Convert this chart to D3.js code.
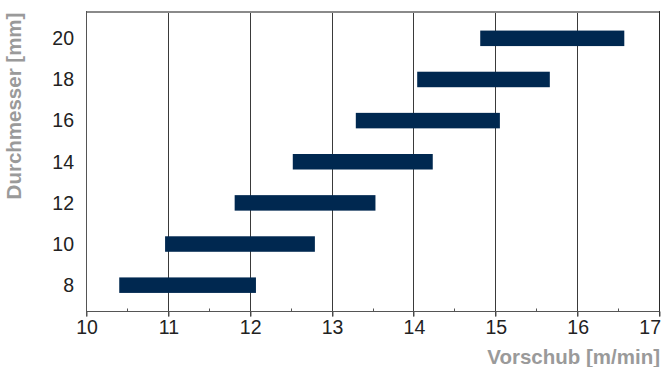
<!DOCTYPE html>
<html><head><meta charset="utf-8">
<script src="https://cdn.jsdelivr.net/npm/d3@7"></script>
<style>
html,body{margin:0;padding:0;background:#fff;}
text{font-family:"Liberation Sans",Arial,Helvetica,sans-serif;}
</style></head>
<body>
<svg id="chart" width="662" height="367"></svg>
<script>
const diameters = ["8","10","12","14","16","18","20"];
const feedMin = [10.40, 10.96, 11.81, 12.52, 13.29, 14.04, 14.81];
const feedMax = [12.07, 12.79, 13.53, 14.23, 15.05, 15.66, 16.57];
const xTicks = [10, 11, 12, 13, 14, 15, 16, 17];
const xMinorTicks = [10.5, 11.5, 12.5, 13.5, 14.5, 15.5, 16.5];
const xTitle = "Vorschub [m/min]";
const yTitle = "Durchmesser [mm]";

(function () {
const svg = d3.select("#chart");
const pl = 86.5, pr = 659.5, pt = 12, pb = 311.5;

const x = d3.scaleLinear().domain([10, 17]).range([pl, pr]);
const y = d3.scalePoint().domain(diameters.slice().reverse()).range([pt, pb]).padding(0.64);
const barH = 15.5;
const xr = v => Math.round(x(v) - 0.5) + 0.5;

// grid lines
svg.append("g").selectAll("line").data(xTicks.slice(1, -1)).join("line")
  .attr("x1", d => xr(d)).attr("x2", d => xr(d))
  .attr("y1", pt).attr("y2", pb + 5)
  .attr("stroke", "#3a3a3a").attr("stroke-width", 1);

// bars
svg.append("g").selectAll("rect").data(diameters).join("rect")
  .attr("x", (d, i) => x(feedMin[i]))
  .attr("width", (d, i) => x(feedMax[i]) - x(feedMin[i]))
  .attr("y", d => y(d) - barH / 2)
  .attr("height", barH)
  .attr("fill", "#002850");

// frame
svg.append("line").attr("x1", pl).attr("x2", pr).attr("y1", pt).attr("y2", pt)
  .attr("stroke", "#8a8a8a").attr("stroke-width", 2);
svg.append("line").attr("x1", xr(17)).attr("x2", xr(17)).attr("y1", pt - 1).attr("y2", pb + 5)
  .attr("stroke", "#2a2a2a").attr("stroke-width", 1);
svg.append("line").attr("x1", xr(10)).attr("x2", xr(10)).attr("y1", pt - 1).attr("y2", pb + 5)
  .attr("stroke", "#555").attr("stroke-width", 1);

// x axis
const xAxis = d3.axisBottom(x).tickValues(xTicks).tickSize(5).tickSizeOuter(0).tickPadding(4)
  .tickFormat(d3.format("d"));
const gx = svg.append("g").attr("transform", `translate(0,${pb})`).call(xAxis);
gx.select(".domain").attr("stroke", "#555").attr("d", `M${pl},0H${pr}`);
gx.selectAll(".tick line").attr("stroke", "#555").attr("transform", d => `translate(${xr(d) - x(d)},0)`);
gx.selectAll(".tick text").attr("font-size", 19.5).attr("fill", "#222")
  .attr("font-family", "'Liberation Sans',Arial,sans-serif")
  .filter(d => d === 17).attr("text-anchor", "end").attr("x", 1);
svg.append("g").selectAll("line").data(xMinorTicks).join("line")
  .attr("x1", d => xr(d)).attr("x2", d => xr(d))
  .attr("y1", pb - 3).attr("y2", pb)
  .attr("stroke", "#555");

// y labels
svg.append("g").selectAll("text").data(diameters).join("text")
  .attr("x", 74).attr("y", d => y(d)).attr("dy", "0.35em")
  .attr("text-anchor", "end").attr("font-size", 19.5).attr("fill", "#222")
  .text(d => d);

// titles
svg.append("text").attr("x", 660).attr("y", 364).attr("text-anchor", "end")
  .attr("font-size", 20.5).attr("font-weight", "bold").attr("fill", "#9a9a9a").text(xTitle);
svg.append("text").attr("transform", "translate(21,106) rotate(-90)").attr("text-anchor", "middle")
  .attr("font-size", 20.5).attr("font-weight", "bold").attr("fill", "#9a9a9a").text(yTitle);
})();
</script>
</body></html>
